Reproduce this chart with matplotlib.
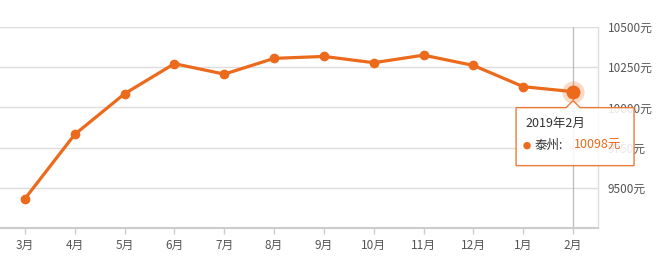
import matplotlib
matplotlib.use('Agg')
import matplotlib.pyplot as plt
from matplotlib.patches import Polygon
from matplotlib.transforms import IdentityTransform
import numpy as np

plt.rcParams['font.family'] = ['Noto Sans CJK SC', 'DejaVu Sans']

# =============================================================================
# Data
# =============================================================================
months = ['3月', '4月', '5月', '6月', '7月', '8月', '9月', '10月', '11月', '12月', '1月', '2月']
prices = [9432, 9832, 10085, 10272, 10207, 10305, 10317, 10278, 10325, 10261, 10129, 10098]
yticks = [9500, 9750, 10000, 10250, 10500]
city = '泰州'
tip_title = '2019年2月'

orange = '#EC6A1C'
grid_c = '#DDDDDD'
text_c = '#555555'

# =============================================================================
# Figure
# =============================================================================
fig = plt.figure(figsize=(6.62, 2.59), dpi=100)
ax = fig.add_axes([0.0, 0.1197, 0.9033, 0.776])

x = np.arange(len(months))
ax.set_xlim(-0.5, len(months) - 0.5)
ax.set_ylim(9250, 10500)

# Grid
for v in yticks:
    ax.axhline(v, color=grid_c, linewidth=1, zorder=1)

# Crosshair on last point
ax.axvline(x[-1], color='#BBBBBB', linewidth=0.9, zorder=1)

# Line
ax.plot(x, prices, color=orange, linewidth=2.3, marker='o', markersize=6, zorder=3)
# Highlighted last point
ax.plot(x[-1], prices[-1], 'o', color=orange, markersize=16, alpha=0.25, markeredgewidth=0, zorder=4)
ax.plot(x[-1], prices[-1], 'o', color=orange, markersize=10, markeredgewidth=0, zorder=5)

# Axes styling
ax.set_xticks(x)
ax.set_xticklabels(months)
ax.set_yticks(yticks)
ax.set_yticklabels([f'{v}元' for v in yticks])
ax.yaxis.tick_right()
ax.tick_params(axis='y', length=0, pad=7, labelsize=8.5, labelcolor=text_c)
ax.tick_params(axis='x', length=4, width=1, color='#CCCCCC', pad=4, labelsize=8.5, labelcolor=text_c)
for s in ['top', 'left']:
    ax.spines[s].set_visible(False)
ax.spines['bottom'].set_color('#CCCCCC')
ax.spines['bottom'].set_linewidth(1.5)
ax.spines['right'].set_color(grid_c)
ax.spines['right'].set_linewidth(1)

# =============================================================================
# Tooltip
# =============================================================================
fig.canvas.draw()
px, py = ax.transData.transform((x[-1], prices[-1]))
shape = [(-57, -16), (-7, -16), (0, -9), (7, -16), (61, -16), (61, -74), (-57, -74)]
tip = Polygon([(px + dx, py + dy) for dx, dy in shape], closed=True,
              facecolor='white', alpha=0.88, edgecolor=orange, linewidth=1,
              transform=IdentityTransform(), zorder=6, clip_on=False)
fig.add_artist(tip)
fig.text(px - 48, py - 32, tip_title, transform=IdentityTransform(), fontsize=9,
         color='#333333', va='center', ha='left', zorder=7)
fig.add_artist(plt.Circle((px - 46, py - 54), 3, color=orange,
                          transform=IdentityTransform(), zorder=7))
fig.text(px - 39, py - 54, city + ':', transform=IdentityTransform(), fontsize=9,
         color='#333333', va='center', ha='left', zorder=7)
fig.text(px + 1, py - 54, f'{prices[-1]}元', transform=IdentityTransform(), fontsize=9,
         color=orange, va='center', ha='left', zorder=7)

fig.savefig('out.png', dpi=100)
